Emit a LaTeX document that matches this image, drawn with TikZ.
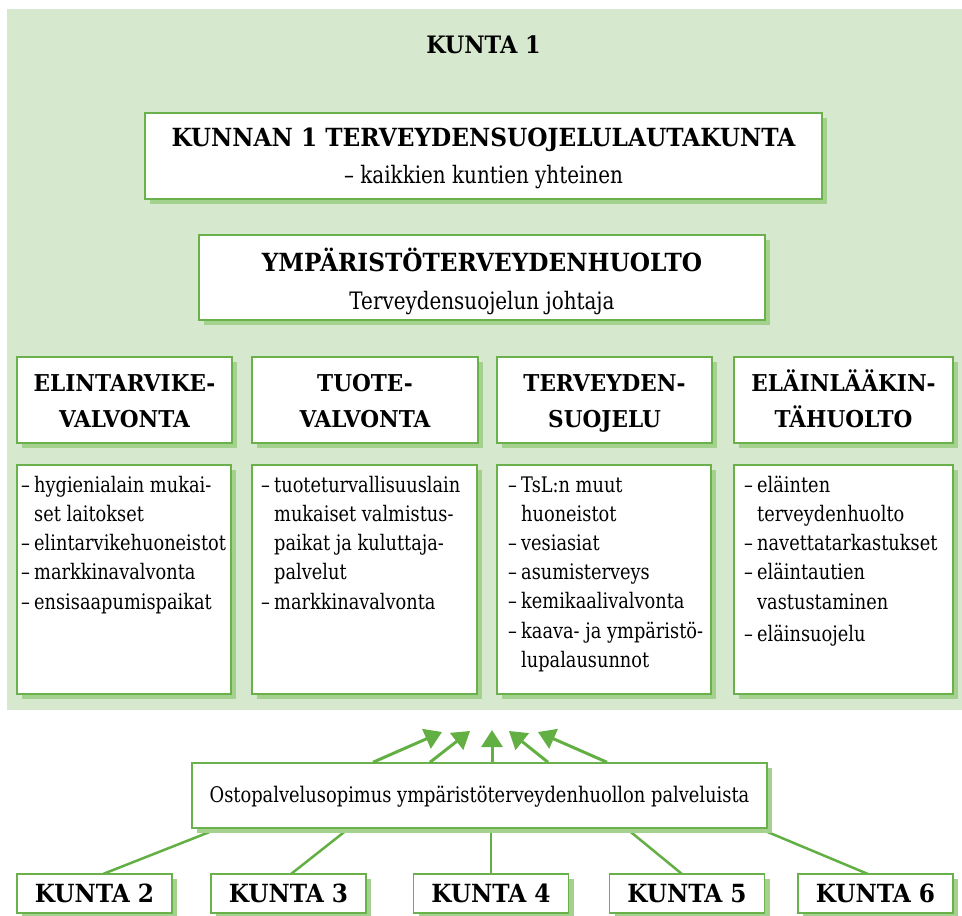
\documentclass[tikz,border=0pt]{standalone}
\usepackage{fontspec}
\setmainfont{DejaVu Serif}[FakeStretch=0.83]
\newfontfamily\hdfont{DejaVu Serif}[FakeStretch=0.93]
\usetikzlibrary{arrows.meta,shadows,calc}
\definecolor{bgg}{HTML}{D6E9CF}
\definecolor{bord}{HTML}{6AB14C}
\definecolor{shad}{HTML}{A4D18E}
\definecolor{arr}{HTML}{62AF43}
\newcommand{\itm}{\makebox[13pt][l]{–}}
\newcommand{\cnt}{\hspace*{13pt}}
\begin{document}
\begin{tikzpicture}[x=1pt,y=-1pt,
  box/.style={draw=bord, line width=1.5pt, fill=white, inner sep=0pt,
    drop shadow={shadow xshift=5pt, shadow yshift=-5pt, fill=shad, opacity=1}},
  title/.style={font=\hdfont\bfseries\fontsize{24}{28}\selectfont, anchor=base, inner sep=0pt},
  bighead/.style={font=\hdfont\bfseries\fontsize{25}{29}\selectfont, anchor=base, inner sep=0pt},
  bigsub/.style={font=\fontsize{24}{28}\selectfont, anchor=base, inner sep=0pt},
  colhead/.style={font=\hdfont\bfseries\fontsize{23.2}{27}\selectfont, anchor=base, inner sep=0pt},
  item/.style={font=\fontsize{21.4}{25}\selectfont, anchor=base west, inner sep=0pt},
  osttxt/.style={font=\fontsize{21.5}{25}\selectfont, anchor=base, inner sep=0pt},
  kbox/.style={box, minimum width=155pt, minimum height=39pt, font=\hdfont\bfseries\fontsize{25}{29}\selectfont},
  link/.style={draw=arr, line width=2.5pt},
  up/.style={draw=arr, line width=3pt, -{Triangle[length=17pt,width=21pt]}}
]
\useasboundingbox (0,0) rectangle (962,916);
\fill[bgg] (7,9) rectangle (962,710);

\node[title] (k1) at (483.5,53) {KUNTA 1};

\node[box, minimum width=677pt, minimum height=86pt] (b1) at (483.5,156) {};
\node[bighead] (b1a) at (483.5,146) {KUNNAN 1 TERVEYDENSUOJELULAUTAKUNTA};
\node[bigsub] (b1b) at (483.5,183) {– kaikkien kuntien yhteinen};

\node[box, minimum width=566pt, minimum height=85pt] (b2) at (482,277.5) {};
\node[bighead] (b2a) at (482,271) {YMPÄRISTÖTERVEYDENHUOLTO};
\node[bigsub] (b2b) at (482,309) {Terveydensuojelun johtaja};

% column headers
\node[box, minimum width=215pt, minimum height=86pt] (h1) at (124.5,400) {};
\node[box, minimum width=226pt, minimum height=86pt] (h2) at (365,400) {};
\node[box, minimum width=215pt, minimum height=86pt] (h3) at (604.5,400) {};
\node[box, minimum width=219pt, minimum height=86pt] (h4) at (843.5,400) {};
\node[colhead] (h1a) at (124.5,391) {ELINTARVIKE-};
\node[colhead] (h1b) at (124.5,427.5) {VALVONTA};
\node[colhead] (h2a) at (365,391) {TUOTE-};
\node[colhead] (h2b) at (365,427.5) {VALVONTA};
\node[colhead] (h3a) at (604.5,391) {TERVEYDEN-};
\node[colhead] (h3b) at (604.5,427.5) {SUOJELU};
\node[colhead] (h4a) at (843.5,391) {ELÄINLÄÄKIN-};
\node[colhead] (h4b) at (843.5,427.5) {TÄHUOLTO};

% content boxes
\node[box, minimum width=214pt, minimum height=229pt] (c1) at (124,579.5) {};
\node[box, minimum width=225pt, minimum height=229pt] (c2) at (364.5,579.5) {};
\node[box, minimum width=214pt, minimum height=229pt] (c3) at (604,579.5) {};
\node[box, minimum width=219pt, minimum height=229pt] (c4) at (843.5,579.5) {};

\foreach \y/\t [count=\i] in {492.5/{\itm hygienialain mukai-},521.5/{\cnt set laitokset},550.5/{\itm elintarvikehuoneistot},579.5/{\itm markkinavalvonta},609/{\itm ensisaapumispaikat}}
  \node[item] (ca\i) at (21,\y) {\t};
\foreach \y/\t [count=\i] in {492.5/{\itm tuoteturvallisuuslain},521.5/{\cnt mukaiset valmistus-},550.5/{\cnt paikat ja kuluttaja-},579.5/{\cnt palvelut},609/{\itm markkinavalvonta}}
  \node[item] (cb\i) at (261,\y) {\t};
\foreach \y/\t [count=\i] in {492.5/{\itm TsL:n muut},521.5/{\cnt huoneistot},550.5/{\itm vesiasiat},579.5/{\itm asumisterveys},608.5/{\itm kemikaalivalvonta},638/{\itm kaava- ja ympäristö-},667/{\cnt lupalausunnot}}
  \node[item] (cc\i) at (508,\y) {\t};
\foreach \y/\t [count=\i] in {492.5/{\itm eläinten},521.5/{\cnt terveydenhuolto},550.5/{\itm navettatarkastukset},579.5/{\itm eläintautien},609/{\cnt vastustaminen},641/{\itm eläinsuojelu}}
  \node[item] (cd\i) at (744,\y) {\t};

% bottom links (behind boxes)
\coordinate (ostc) at (479.5,795.5);
\draw[link] ($(ostc)+(-259.8,32.5)$) -- (103,874) coordinate (e2);
\draw[link] ($(ostc)+(-130.2,32.5)$) -- (291,874) coordinate (e3);
\draw[link] ($(ostc)+(11.5,32.5)$) -- (491,874) coordinate (e4);
\draw[link] ($(ostc)+(146.4,32.5)$) -- (682,874) coordinate (e5);
\draw[link] ($(ostc)+(278.5,32.5)$) -- (868,874) coordinate (e6);

\node[box, minimum width=575pt, minimum height=65pt] (ost) at (ostc) {};
\node[osttxt] (ostt) at (479.5,802) {Ostopalvelusopimus ympäristöterveydenhuollon palveluista};

\node[kbox] (k2) at (94.5,893.5) {KUNTA 2};
\node[kbox] (k3) at (288.5,893.5) {KUNTA 3};
\node[kbox] (k4) at (491,893.5) {KUNTA 4};
\node[kbox] (k5) at (687,893.5) {KUNTA 5};
\node[kbox] (k6) at (875.5,893.5) {KUNTA 6};

% arrows up
\coordinate (a1) at (442,732);
\coordinate (a2) at (470,731);
\coordinate (a3) at (492,730);
\coordinate (a4) at (509,731);
\coordinate (a5) at (538,732);
\draw[up] ($(ost.north)+(-106.5,0)$) -- (a1);
\draw[up] ($(ost.north)+(-49.5,0)$) -- (a2);
\draw[up] ($(ost.north)+(12.5,0)$) -- (a3);
\draw[up] ($(ost.north)+(68.5,0)$) -- (a4);
\draw[up] ($(ost.north)+(127.5,0)$) -- (a5);
\end{tikzpicture}
\end{document}
